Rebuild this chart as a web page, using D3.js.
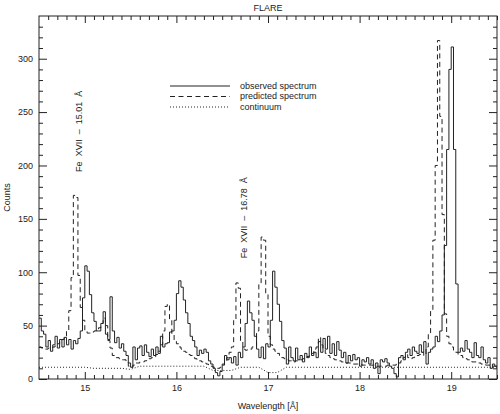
<!DOCTYPE html>
<html>
<head>
<meta charset="utf-8">
<script src="https://cdn.jsdelivr.net/npm/d3@7"></script>
<style>
  body { margin: 0; background: #fff; }
  svg { display: block; }
  text { font-family: "Liberation Sans", Arial, sans-serif; fill: #222; }
</style>
</head>
<body>
<div id="chart"></div>
<script>
// spectrum bins: 0.025 A wide, first bin starts at 14.5 A
const binStart = 14.5;
const binWidth = 0.025;

const observed = [
  57, 45, 42, 30, 36, 26, 32, 40, 29, 37, 30, 39, 32, 37, 28, 36, 33, 38, 45, 76,
  106, 101, 79, 62, 54, 45, 45, 52, 63, 42, 37, 77, 45, 34, 39, 29, 33, 26, 22, 15,
  11, 30, 18, 29, 31, 22, 32, 25, 21, 28, 22, 30, 24, 40, 30, 33, 34, 44, 45, 55,
  80, 92, 86, 74, 62, 52, 40, 36, 30, 22, 27, 24, 28, 25, 17, 14, 10, 6, 3, 7,
  14, 22, 18, 20, 15, 21, 13, 25, 20, 30, 52, 73, 62, 55, 40, 28, 20, 30, 19, 33,
  30, 55, 101, 86, 70, 54, 36, 29, 14, 30, 20, 17, 29, 18, 22, 16, 24, 20, 30, 22,
  25, 20, 35, 25, 38, 28, 40, 24, 33, 22, 35, 27, 20, 25, 15, 22, 17, 23, 18, 20,
  12, 18, 16, 20, 14, 18, 10, 15, 5, 18, 16, 19, 15, 12, 10, 5, 2, 20, 22, 18,
  25, 28, 22, 30, 26, 24, 32, 25, 35, 14, 25, 28, 30, 40, 35, 45, 60, 125, 215, 290,
  311, 215, 89, 25, 29, 26, 36, 28, 25, 20, 34, 22, 20, 30, 18, 15, 20, 10, 14, 12
];

const predicted = [
  30, 29, 28, 28, 29, 29, 30, 31, 33, 35, 37, 40, 45, 64, 95, 172, 170, 97, 67, 55,
  45, 43, 43, 44, 45, 46, 48, 52, 57, 50, 36, 29, 22, 20, 20, 19, 18, 18, 16, 12,
  11, 13, 15, 15, 16, 16, 17, 18, 19, 20, 21, 23, 26, 32, 45, 68, 70, 55, 42, 36,
  33, 30, 28, 26, 25, 23, 22, 20, 19, 18, 17, 16, 15, 14, 13, 12, 11, 10, 10, 11,
  13, 16, 20, 25, 30, 55, 90, 85, 35, 28, 27, 28, 28, 30, 30, 45, 90, 133, 130, 80,
  40, 32, 28, 26, 24, 22, 20, 19, 18, 17, 17, 16, 17, 18, 18, 19, 20, 21, 22, 24,
  28, 30, 39, 32, 28, 24, 22, 20, 19, 18, 17, 17, 16, 16, 15, 15, 15, 14, 14, 14,
  14, 13, 13, 13, 13, 13, 13, 12, 12, 12, 12, 12, 13, 13, 13, 13, 14, 15, 17, 20,
  23, 20, 19, 20, 21, 22, 23, 25, 22, 30, 42, 65, 130, 200, 317, 246, 154, 61, 40, 33,
  30, 27, 25, 23, 22, 20, 19, 18, 17, 16, 16, 15, 15, 14, 14, 13, 13, 13, 12, 12
];

// continuum sampled every 0.1 A from 14.5 to 19.5
const continuumWave = d3.range(51).map(i => +(14.5 + i * 0.1).toFixed(1));
const continuum = [
  11, 11, 11, 11, 11, 11, 10, 10, 10, 10,
  9, 12, 12, 12, 12, 12, 12, 12, 12, 8,
  8, 8, 11, 11, 11, 6, 6, 11, 11, 11,
  11, 11, 11, 11, 11, 11, 11, 11, 11, 11,
  11, 11, 11, 11, 11, 11, 11, 11, 11, 11, 11
];

const xMajor = [15, 16, 17, 18, 19];
const yMajor = [0, 50, 100, 150, 200, 250, 300];

const legendItems = [
  { label: "observed spectrum", dash: null },
  { label: "predicted spectrum", dash: "5,3.5" },
  { label: "continuum", dash: "1,2" }
];

// label anchored where the rotated text starts (its lower end)
const lineLabels = [
  { text: "Fe  XVII  \u2013  15.01  \u00c5", x: 14.94, y: 194 },
  { text: "Fe  XVII  \u2013  16.78  \u00c5", x: 16.74, y: 113 }
];

const width = 500, height = 414;
const margin = { top: 16, right: 3, bottom: 35, left: 39 };
const innerW = width - margin.left - margin.right;
const innerH = height - margin.top - margin.bottom;

const svg = d3.select("#chart").append("svg")
  .attr("width", width)
  .attr("height", height);

const g = svg.append("g")
  .attr("transform", `translate(${margin.left},${margin.top})`);

const x = d3.scaleLinear().domain([14.5, 19.5]).range([0, innerW]);
const y = d3.scaleLinear().domain([0, 340]).range([innerH, 0]);

const xMinor = d3.range(146, 196).map(v => v / 10).filter(v => !xMajor.includes(v));
const yMinor = d3.range(10, 340, 10).filter(v => v % 50 !== 0);

const ink = "#222";

function styleAxis(sel) {
  sel.select(".domain").remove();
  sel.selectAll(".tick line").attr("stroke", ink);
  sel.selectAll(".tick text").style("font-size", "9px").attr("fill", ink);
}

// bottom axis
g.append("g").attr("transform", `translate(0,${innerH})`)
  .call(d3.axisBottom(x).tickValues(xMajor).tickSizeInner(-7).tickSizeOuter(0).tickPadding(6).tickFormat(d3.format("d")))
  .call(styleAxis);
g.append("g").attr("transform", `translate(0,${innerH})`)
  .call(d3.axisBottom(x).tickValues(xMinor).tickSizeInner(-4).tickSizeOuter(0).tickFormat(""))
  .call(styleAxis);
// top axis
g.append("g")
  .call(d3.axisTop(x).tickValues(xMajor).tickSizeInner(-7).tickSizeOuter(0).tickFormat(""))
  .call(styleAxis);
g.append("g")
  .call(d3.axisTop(x).tickValues(xMinor).tickSizeInner(-4).tickSizeOuter(0).tickFormat(""))
  .call(styleAxis);
// left axis
g.append("g")
  .call(d3.axisLeft(y).tickValues(yMajor).tickSizeInner(-8).tickSizeOuter(0).tickPadding(6))
  .call(styleAxis);
g.append("g")
  .call(d3.axisLeft(y).tickValues(yMinor).tickSizeInner(-4).tickSizeOuter(0).tickFormat(""))
  .call(styleAxis);
// right axis
g.append("g").attr("transform", `translate(${innerW},0)`)
  .call(d3.axisRight(y).tickValues(yMajor).tickSizeInner(-8).tickSizeOuter(0).tickFormat(""))
  .call(styleAxis);
g.append("g").attr("transform", `translate(${innerW},0)`)
  .call(d3.axisRight(y).tickValues(yMinor).tickSizeInner(-4).tickSizeOuter(0).tickFormat(""))
  .call(styleAxis);

g.append("rect")
  .attr("width", innerW).attr("height", innerH)
  .attr("fill", "none").attr("stroke", ink).attr("stroke-width", 1);

g.append("clipPath").attr("id", "plotclip")
  .append("rect").attr("width", innerW).attr("height", innerH);

// histogram steps: each bin drawn from its left edge, closed at the right edge
function stepPoints(values) {
  const pts = values.map((v, i) => [binStart + i * binWidth, v]);
  pts.push([binStart + values.length * binWidth, values[values.length - 1]]);
  return pts;
}

const stepLine = d3.line()
  .x(d => x(d[0]))
  .y(d => y(d[1]))
  .curve(d3.curveStepAfter);

const plot = g.append("g").attr("clip-path", "url(#plotclip)");

plot.append("path")
  .datum(continuumWave.map((w, i) => [w, continuum[i]]))
  .attr("d", d3.line().x(d => x(d[0])).y(d => y(d[1])))
  .attr("fill", "none").attr("stroke", ink).attr("stroke-width", 1)
  .attr("stroke-dasharray", "1,2");

plot.append("path")
  .datum(stepPoints(predicted))
  .attr("d", stepLine)
  .attr("fill", "none").attr("stroke", ink).attr("stroke-width", 1)
  .attr("stroke-dasharray", "5,3.5");

plot.append("path")
  .datum(stepPoints(observed))
  .attr("d", stepLine)
  .attr("fill", "none").attr("stroke", ink).attr("stroke-width", 1);

// legend
const legend = g.append("g").attr("transform", `translate(${170 - margin.left},${86 - margin.top})`);
legendItems.forEach((item, i) => {
  const row = legend.append("g").attr("transform", `translate(0,${i * 10.5})`);
  row.append("line")
    .attr("x1", 0).attr("x2", 60).attr("y1", 0).attr("y2", 0)
    .attr("stroke", ink).attr("stroke-width", 1)
    .attr("stroke-dasharray", item.dash);
  row.append("text")
    .attr("x", 70).attr("y", 0).attr("dy", "0.33em")
    .style("font-size", "9px")
    .text(item.label);
});

// line identifications, rotated
lineLabels.forEach(l => {
  g.append("text")
    .attr("transform", `translate(${x(l.x)},${y(l.y)}) rotate(-90)`)
    .attr("dy", "0.35em")
    .style("font-size", "9px")
    .style("white-space", "pre")
    .text(l.text);
});

// title and axis titles
svg.append("text")
  .attr("x", margin.left + innerW / 2).attr("y", 11)
  .attr("text-anchor", "middle")
  .style("font-size", "9px")
  .text("FLARE");

svg.append("text")
  .attr("x", margin.left + innerW / 2).attr("y", 409)
  .attr("text-anchor", "middle")
  .style("font-size", "9px")
  .text("Wavelength [\u00c5]");

svg.append("text")
  .attr("transform", `translate(10,${margin.top + innerH / 2}) rotate(-90)`)
  .attr("text-anchor", "middle")
  .style("font-size", "9px")
  .text("Counts");
</script>
</body>
</html>
